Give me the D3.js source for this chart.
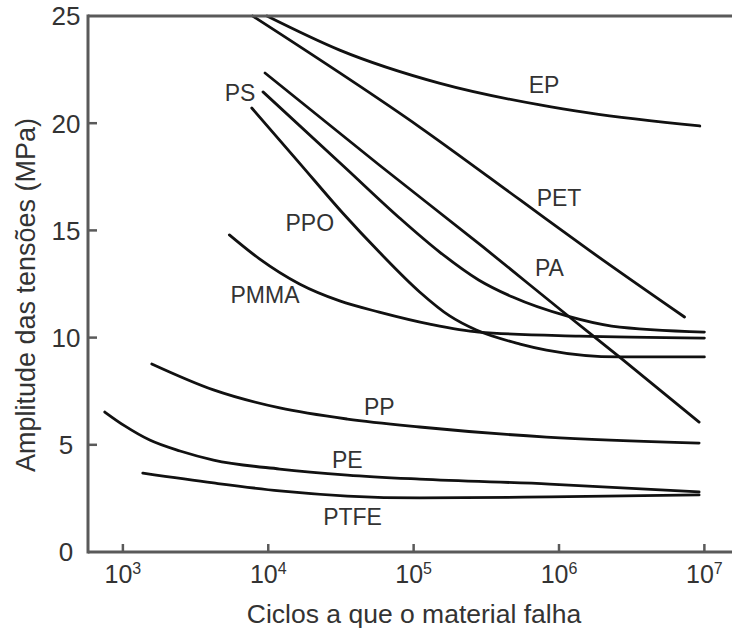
<!DOCTYPE html>
<html><head><meta charset="utf-8">
<script src="https://cdn.jsdelivr.net/npm/d3@7"></script>
<style>html,body{margin:0;padding:0;background:#fff;}svg{display:block;}</style>
</head><body>
<svg id="c" width="732" height="633"></svg>
<script>
// ---- data (cycles to failure N, stress amplitude in MPa) ----
const materials = ["EP","PET","PA","PS","PPO","PMMA","PP","PE","PTFE"];
const EP_N   = [9.8e3, 3.1e4, 1.5e5, 7.4e5, 1.6e6, 9.3e6];
const EP_S   = [25.0, 23.41, 21.87, 20.85, 20.48, 19.87];
const PET_N  = [7.8e3, 1.1e5, 5.4e5, 1.6e6, 7.3e6];
const PET_S  = [25.0, 19.82, 16.42, 14.09, 10.96];
const PA_N   = [9.5e3, 5.8e4, 3.0e5, 1.18e6, 2.6e6, 9.2e6];
const PA_S   = [22.34, 18.05, 14.23, 10.96, 9.10, 6.06];
const PS_N   = [9.2e3, 3.4e4, 8.0e4, 1.51e5, 2.8e5, 4.8e5, 1.13e6, 2.3e6, 1.0e7];
const PS_S   = [21.46, 17.91, 15.58, 13.99, 12.69, 11.89, 11.01, 10.54, 10.26];
const PPO_N  = [7.7e3, 1.64e4, 3.25e4, 5.8e4, 1.1e5, 1.77e5, 2.7e5, 5.4e5, 8.2e5, 2.6e6, 1.0e7];
const PPO_S  = [20.71, 18.14, 15.81, 13.99, 12.13, 11.01, 10.35, 9.70, 9.42, 9.10, 9.10];
const PMMA_N = [5.4e3, 8.7e3, 1.64e4, 3.1e4, 5.8e4, 1.29e5, 2.8e5, 1.38e6, 1.0e7];
const PMMA_S = [14.79, 13.67, 12.50, 11.71, 11.19, 10.63, 10.26, 10.07, 9.98];
const PP_N   = [1.58e3, 4.2e3, 1.2e4, 3.5e4, 1.1e5, 8.2e5, 9.2e6];
const PP_S   = [8.77, 7.56, 6.72, 6.20, 5.83, 5.36, 5.08];
const PE_N   = [7.5e2, 1.03e3, 1.53e3, 2.47e3, 4.2e3, 1.2e4, 3.5e4, 1.1e5, 8.6e5, 9.2e6];
const PE_S   = [6.53, 5.88, 5.22, 4.71, 4.29, 3.87, 3.59, 3.40, 3.17, 2.80];
const PTFE_N = [1.37e3, 4.2e3, 1.2e4, 3.5e4, 1.1e5, 8.6e5, 9.2e6];
const PTFE_S = [3.68, 3.22, 2.85, 2.61, 2.52, 2.57, 2.66];
// label anchors (N, MPa)
const labelN = [7.9e5, 1.0e6, 8.6e5, 6.4e3, 1.93e4, 9.5e3, 5.8e4, 3.5e4, 3.8e4];
const labelS = [21.78, 16.51, 13.25, 21.41, 15.35, 11.99, 6.76, 4.29, 1.63];
const yTicks = [0, 5, 10, 15, 20, 25];
const xTickExp = [3, 4, 5, 6, 7];
const xTitle = "Ciclos a que o material falha";
const yTitle = "Amplitude das tensões (MPa)";

const seriesN = [EP_N, PET_N, PA_N, PS_N, PPO_N, PMMA_N, PP_N, PE_N, PTFE_N];
const seriesS = [EP_S, PET_S, PA_S, PS_S, PPO_S, PMMA_S, PP_S, PE_S, PTFE_S];

// ---- layout ----
const svg = d3.select("#c");
const L = 88, R = 732, T = 16, B = 552;
const x = d3.scaleLog().domain([Math.pow(10, 2.76), Math.pow(10, 7.19)]).range([L, R]);
const y = d3.scaleLinear().domain([0, 25]).range([B, T]);
const font = "Liberation Sans, Arial, Helvetica, sans-serif";
const axisColor = "#5a5a5a";
const textColor = "#333";

// curves
const line = d3.line().x(d => x(d[0])).y(d => y(d[1])).curve(d3.curveMonotoneX);
materials.forEach((m, i) => {
  const pts = seriesN[i].map((n, j) => [n, seriesS[i][j]]);
  svg.append("path").attr("d", line(pts)).attr("fill", "none")
    .attr("stroke", "#111").attr("stroke-width", 2.8).attr("stroke-linecap", "round");
});

// axes frame
svg.append("line").attr("x1", L).attr("x2", R).attr("y1", B).attr("y2", B)
  .attr("stroke", axisColor).attr("stroke-width", 3);
svg.append("line").attr("x1", L).attr("x2", R).attr("y1", T).attr("y2", T)
  .attr("stroke", axisColor).attr("stroke-width", 3);
svg.append("line").attr("x1", L).attr("x2", L).attr("y1", T - 1.5).attr("y2", B + 1.5)
  .attr("stroke", axisColor).attr("stroke-width", 3);

// y ticks
yTicks.forEach(t => {
  if (t > 0 && t < 25) {
    svg.append("line").attr("x1", L).attr("x2", L + 9).attr("y1", y(t)).attr("y2", y(t))
      .attr("stroke", axisColor).attr("stroke-width", 2.5);
  }
  svg.append("text").attr("x", 66).attr("y", y(t)).attr("dy", "0.36em")
    .attr("text-anchor", "middle").attr("font-family", font).attr("font-size", 26)
    .attr("fill", textColor).text(t);
});

// x ticks
xTickExp.forEach(e => {
  const xp = x(Math.pow(10, e));
  svg.append("line").attr("x1", xp).attr("x2", xp).attr("y1", B).attr("y2", B - 8)
    .attr("stroke", axisColor).attr("stroke-width", 2.5);
  const t = svg.append("text").attr("x", xp).attr("y", 583)
    .attr("text-anchor", "middle").attr("font-family", font).attr("font-size", 25)
    .attr("fill", textColor);
  t.append("tspan").text("10");
  t.append("tspan").attr("dy", -9).attr("font-size", 16).text(e);
});

// axis titles
svg.append("text").attr("x", 414).attr("y", 623).attr("text-anchor", "middle")
  .attr("font-family", font).attr("font-size", 26.5).attr("fill", textColor).text(xTitle);
svg.append("text").attr("transform", "translate(35,295) rotate(-90)")
  .attr("text-anchor", "middle").attr("font-family", font).attr("font-size", 27)
  .attr("fill", textColor).text(yTitle);

// curve labels
materials.forEach((m, i) => {
  svg.append("text").attr("x", x(labelN[i])).attr("y", y(labelS[i])).attr("dy", "0.36em")
    .attr("text-anchor", "middle").attr("font-family", font).attr("font-size", 23)
    .attr("fill", textColor).text(m);
});
</script>
</body></html>
